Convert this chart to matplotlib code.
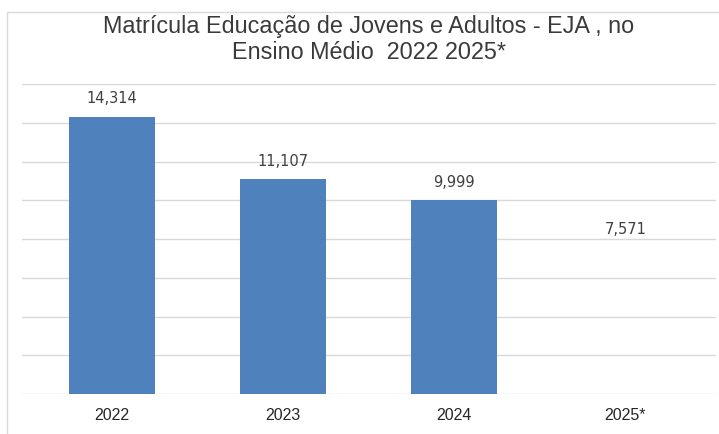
import matplotlib
matplotlib.use("Agg")
import matplotlib.pyplot as plt
from matplotlib.patches import Rectangle

categories = ["2022", "2023", "2024", "2025*"]
values = [14314, 11107, 9999, 7571]
value_labels = ["14,314", "11,107", "9,999", "7,571"]
visible = [True, True, True, False]
title_lines = ["Matrícula Educação de Jovens e Adultos - EJA , no", "Ensino Médio  2022 2025*"]

plt.rcParams['font.family'] = ['Liberation Sans', 'DejaVu Sans']

W, H = 719, 434
fig = plt.figure(figsize=(W / 100, H / 100), dpi=100)
fig.patch.set_facecolor("white")

# outer chart frame
fig.add_artist(Rectangle((7 / W, -0.1), 1.2, (H - 12) / H + 0.1, transform=fig.transFigure,
                         fill=False, edgecolor="#d9d9d9", linewidth=1.0))

left, right = 22, 716
bottom, top = 394, 84
ax = fig.add_axes([left / W, 1 - bottom / H, (right - left) / W, (bottom - top) / H])

x = list(range(len(categories)))
colors = ["#4F81BD" if v else "none" for v in visible]
bars = ax.bar(x, values, width=0.5, color=colors, zorder=3)

for xi, v, lab in zip(x, values, value_labels):
    ax.annotate(lab, (xi, v), xytext=(0, 9.5), textcoords="offset points",
                ha="center", va="baseline", fontsize=10.5, color="#404040",
                family="DejaVu Sans", zorder=4)

ax.set_xlim(-0.526, 3.53)
ax.set_ylim(0, 16000)
ax.set_yticks(range(0, 16001, 2000))
ax.yaxis.grid(True, color="#d9d9d9", linewidth=1.0, zorder=0)
ax.set_axisbelow(True)
ax.tick_params(axis="y", left=False, labelleft=False)
ax.set_xticks(x)
ax.set_xticklabels(categories, fontsize=11.5, color="#262626")
ax.tick_params(axis="x", length=0, pad=10)
for s in ax.spines.values():
    s.set_visible(False)

for line, yb in zip(title_lines, [33, 59]):
    fig.text(369 / W, 1 - yb / H, line, ha="center", va="baseline", fontsize=16.8,
             color="#3a3a3a")

fig.savefig("out.png", dpi=100, facecolor="white")
